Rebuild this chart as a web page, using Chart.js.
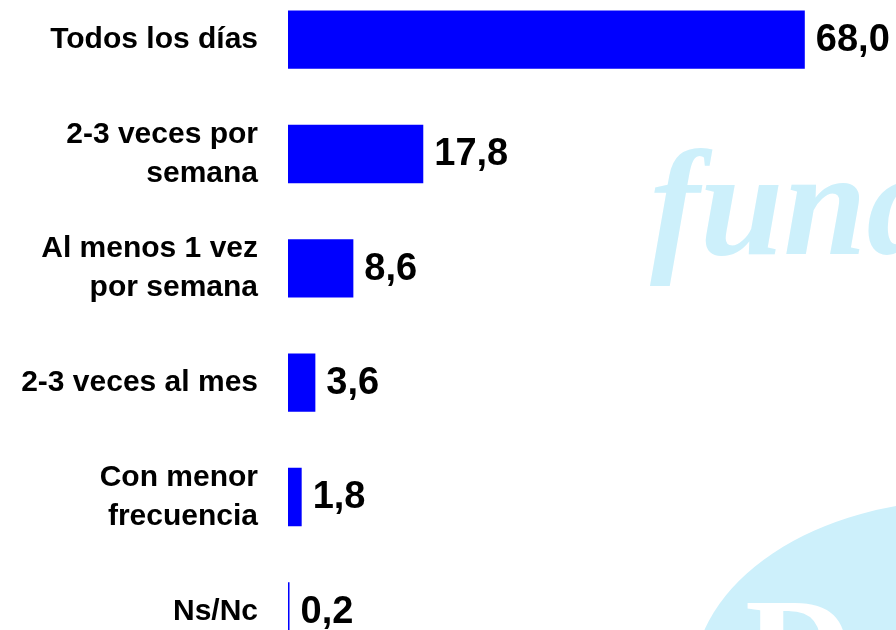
<!DOCTYPE html>
<html>
<head>
<meta charset="utf-8">
<script src="https://cdn.jsdelivr.net/npm/chart.js@4"></script>
<style>
  html, body { margin: 0; padding: 0; background: #fff; overflow: hidden; }
  #wrap { position: absolute; left: 0; top: 0; width: 896px; height: 686px; }
</style>
</head>
<body>
<div id="wrap"><canvas id="freqChart"></canvas></div>
<script>
const categories = [
    "Todos los días",
    ["2-3 veces por", "semana"],
    ["Al menos 1 vez", "por semana"],
    "2-3 veces al mes",
    ["Con menor", "frecuencia"],
    "Ns/Nc"
];
const values = [68.0, 17.8, 8.6, 3.6, 1.8, 0.2];

const FONT = "'Liberation Sans', Arial, sans-serif";

// plot area wanted in page pixels (runs past the top and bottom of the window)
const AREA_TOP = -17.6;
const AREA_HEIGHT = 686;
let wrapTop = 0;

// faint logo watermark behind the chart
const watermark = {
    id: "watermark",
    beforeDraw(chart) {
        const ctx = chart.ctx;
        ctx.save();
        ctx.translate(0, -wrapTop);
        ctx.fillStyle = "#cdf0fb";
        ctx.font = "bold italic 150px 'Liberation Serif', serif";
        ctx.textBaseline = "alphabetic";
        ctx.fillText("fundación", 650, 254);
        ctx.beginPath();
        ctx.ellipse(965, 682, 272, 182, 0, 0, Math.PI * 2);
        ctx.fill();
        ctx.fillStyle = "#ffffff";
        ctx.font = "bold 150px 'Liberation Serif', serif";
        ctx.fillText("D", 745, 702);
        ctx.restore();
    }
};

// value labels at the end of each bar
const valueLabels = {
    id: "valueLabels",
    afterDatasetsDraw(chart) {
        const ctx = chart.ctx;
        const meta = chart.getDatasetMeta(0);
        ctx.save();
        ctx.fillStyle = "#000";
        ctx.font = "bold 38px " + FONT;
        ctx.textAlign = "left";
        ctx.textBaseline = "middle";
        meta.data.forEach((bar, i) => {
            const txt = values[i].toFixed(1).replace(".", ",");
            ctx.fillText(txt, bar.x + 11, bar.y + 1);
        });
        ctx.restore();
    }
};

const ctx = document.getElementById("freqChart").getContext("2d");

const chart = new Chart(ctx, {
    type: "bar",
    data: {
        labels: categories,
        datasets: [{
            data: values,
            backgroundColor: "#0000ff",
            borderWidth: 0,
            categoryPercentage: 1,
            barPercentage: 0.51
        }]
    },
    options: {
        indexAxis: "y",
        responsive: true,
        maintainAspectRatio: false,
        animation: false,
        layout: { padding: 0 },
        plugins: {
            legend: { display: false },
            tooltip: { enabled: false }
        },
        scales: {
            x: {
                display: false,
                min: 0,
                max: 80
            },
            y: {
                border: { display: false },
                grid: { display: false },
                ticks: {
                    color: "#000",
                    padding: 22,
                    font: { family: FONT, size: 30, weight: "bold", lineHeight: 1.3 }
                },
                afterFit(scale) {
                    scale.width = 288;
                }
            }
        }
    },
    plugins: [watermark, valueLabels]
});

// stretch the canvas so the plot area lands where the reference has it
const area = chart.chartArea;
const extra = 686 - (area.bottom - area.top);
wrapTop = AREA_TOP - area.top;
const wrap = document.getElementById("wrap");
wrap.style.top = wrapTop + "px";
wrap.style.height = (AREA_HEIGHT + extra) + "px";
chart.resize();
</script>
</body>
</html>
